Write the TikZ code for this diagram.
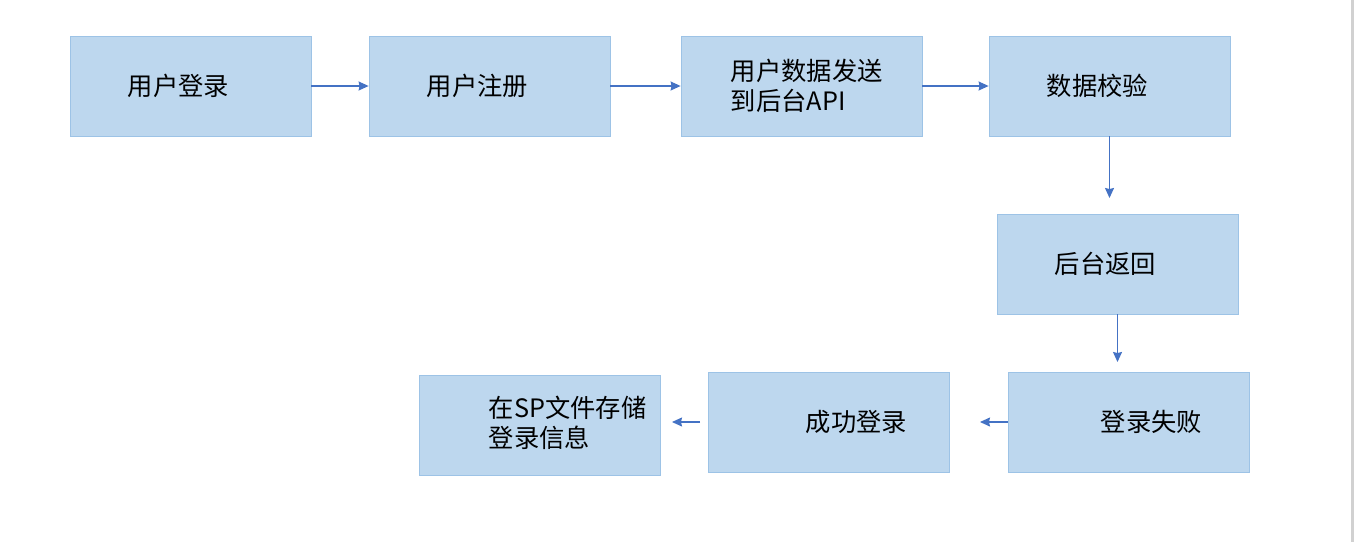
\documentclass[tikz,border=0pt]{standalone}
\usepackage{fontspec}
\setmainfont{Noto Sans CJK SC}
\usetikzlibrary{arrows.meta,calc}
\definecolor{boxfill}{HTML}{BDD7EE}
\definecolor{boxline}{HTML}{9DC3E6}
\definecolor{arrowblue}{HTML}{4472C4}
\tikzset{
  flowbox/.style={draw=boxline, line width=0.8pt, fill=boxfill, minimum width=241pt, minimum height=100pt, inner sep=0pt},
  boxtext/.style={anchor=west, inner sep=0pt, align=left, font=\fontsize{25.3}{30}\selectfont, text=black},
  arr/.style={draw=arrowblue, line width=1.2pt, -{Stealth[length=10pt,width=9pt,inset=1pt]}}
}
\begin{document}
\begin{tikzpicture}[x=1pt,y=-1pt]
\useasboundingbox (0,0) rectangle (1355,542);
\fill[white] (0,0) rectangle (1355,542);
% right page edge
\draw[black!18, line width=2.5pt] (1352.5,0) -- (1352.5,542);

% boxes
\node[flowbox] (b1) at (190.5,86) {};
\node[flowbox] (b2) at (489.5,86) {};
\node[flowbox] (b3) at (801.5,86) {};
\node[flowbox] (b4) at (1109.5,86) {};
\node[flowbox] (b5) at (1117.5,264) {};
\node[flowbox] (b6) at (1128.5,422) {};
\node[flowbox] (b7) at (828.5,422) {};
\node[flowbox] (b8) at (539.5,425) {};

% labels
\node[boxtext] (t1) at ($(b1.west)+(58,0)$) {用户登录};
\node[boxtext] (t2) at ($(b2.west)+(58,0)$) {用户注册};
\node[boxtext] (t3) at ($(b3.west)+(50,0)$) {用户数据发送\\到后台API};
\node[boxtext] (t4) at ($(b4.west)+(58,0)$) {数据校验};
\node[boxtext] (t5) at ($(b5.west)+(58,0)$) {后台返回};
\node[boxtext] (t6) at ($(b6.west)+(93,0)$) {登录失败};
\node[boxtext] (t7) at ($(b7.west)+(98,0)$) {成功登录};
\node[boxtext] (t8) at ($(b8.west)+(70,-2)$) {在SP文件存储\\登录信息};

% free ends of the short connectors
\coordinate (e45) at (1109.5,198);
\coordinate (e56) at (1117.5,362);
\coordinate (e67) at (980,422);
\coordinate (s78) at (700,422);
\coordinate (e78) at (672,422);

% connectors
\draw[arr] (b1.east) -- (b2.west);
\draw[arr] (b2.east) -- (b3.west);
\draw[arr] (b3.east) -- (b4.west);
\draw[arr] (b4.south) -- (e45);
\draw[arr] (b5.south) -- (e56);
\draw[arr] (b6.west) -- (e67);
\draw[arr] (s78) -- (e78);
\end{tikzpicture}
\end{document}
